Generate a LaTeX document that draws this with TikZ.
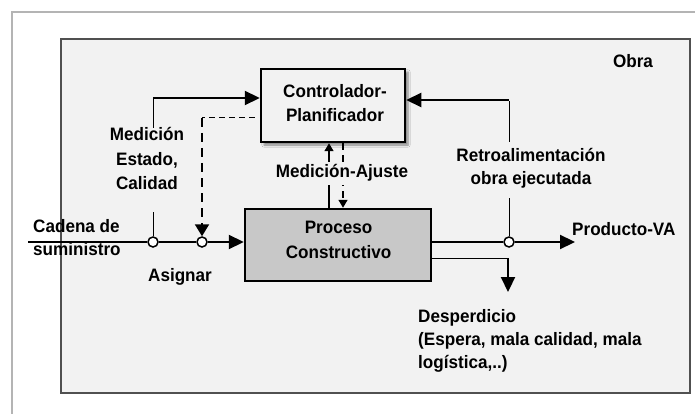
\documentclass[tikz,border=0pt]{standalone}
\usepackage{fontspec}
\setmainfont{Liberation Sans}[FakeStretch=0.95]
\usetikzlibrary{arrows.meta,shadows.blur}
\definecolor{bgc}{HTML}{F2F2F2}
\definecolor{procfill}{HTML}{C8C8C8}
\definecolor{framec}{HTML}{B4B4B4}
\definecolor{obrac}{HTML}{505050}
\begin{document}
\begin{tikzpicture}[x=1pt,y=-1pt,
  txt/.style={font=\bfseries\fontsize{18}{23}\selectfont, inner sep=0pt, anchor=base},
  big/.style={-{Triangle[length=15pt,width=14pt]}},
  small/.style={-{Triangle[length=8pt,width=9pt]}},
  thickline/.style={line width=2.2pt},
  thinline/.style={line width=1pt},
  junction/.style={circle, draw, fill=white, line width=1.5pt, minimum size=10pt, inner sep=0pt},
  ctrlbox/.style={draw, line width=2.5pt, fill=bgc, minimum width=144pt, minimum height=73pt, inner sep=0pt,
    blur shadow={shadow xshift=3pt, shadow yshift=-3pt, shadow blur steps=6, shadow opacity=45}},
  procbox/.style={draw, line width=2.5pt, fill=procfill, minimum width=186pt, minimum height=72pt, inner sep=0pt}]
\fill[white] (0,0) rectangle (695,414);
\useasboundingbox (0,0) rectangle (695,414);
% page frame and Obra box
\draw[framec, line width=1.5pt] (12,414) -- (12,12) -- (695,12);
\draw[obrac, line width=1.5pt, fill=bgc] (61,39) rectangle (690,393);
\node[txt] (obra) at (633,68) {Obra};

% boxes
\node[ctrlbox] (ctrl) at (333,105.5) {};
\node[txt] (ctrl1) at (335,98) {Controlador-};
\node[txt] (ctrl2) at (335,122) {Planificador};
\node[procbox] (proc) at (338,245) {};
\node[txt] (proc1) at (338.5,233) {Proceso};
\node[txt] (proc2) at (338.5,258) {Constructivo};

% junctions
\node[junction] (c1) at (153,242) {};
\node[junction] (c2) at (202,242) {};
\node[junction] (c3) at (509,242) {};

% coordinates
\coordinate (src) at (28,242);
\coordinate (m1) at (153,212);
\coordinate (m2) at (153,128);
\coordinate (m3) at (153,98);
\coordinate (d1) at (202,118);
\coordinate (u) at (329,0);
\coordinate (dn) at (343,0);
\coordinate (r1) at (509,198);
\coordinate (r2) at (509,142);
\coordinate (r3) at (509,100);
\coordinate (pva) at (575,242);
\coordinate (w1) at (508,258);
\coordinate (w2) at (508,292);

% supply chain input
\draw[thickline] (src) -- (c1) -- (c2);
\draw[thickline, big] (c2) -- (proc.west |- c2);

% measurement of state
\draw[thinline] (c1) -- (m1);
\draw[thinline] (m2) -- ([yshift=-0.8pt]m3);
\draw[thickline, big] (m3) -- (m3 -| ctrl.west);

% assignment (dashed)
\draw[thinline, dash pattern=on 6pt off 4pt] ([xshift=-5pt]ctrl.west |- d1) -- (d1);
\draw[line width=2pt, dash pattern=on 9pt off 6pt, -{Triangle[length=12pt,width=14pt]}] (d1) -- (c2);

% measurement-adjustment
\draw[line width=1.5pt, small] (u |- proc.north) -- (u |- ctrl.south);
\draw[line width=1.5pt, dash pattern=on 7pt off 5pt, small] (dn |- ctrl.south) -- (dn |- proc.north);
\node[txt, fill=bgc, inner xsep=1pt, inner ysep=3pt] (ma) at (342,178) {Medición-Ajuste};

% feedback
\draw[thinline] (c3) -- (r1);
\draw[thinline] (r2) -- ([yshift=-0.8pt]r3);
\draw[thickline, big] (r3) -- (r3 -| ctrl.east);

% output
\draw[thickline] (proc.east |- c3) -- (c3);
\draw[thickline, big] (c3) -- (pva);

% waste
\draw[thinline] (proc.east |- w1) -- ([xshift=0.6pt]w1);
\draw[thickline, big] ([yshift=-0.5pt]w1) -- (w2);

% labels
\node[txt, anchor=base west] (cad1) at (33,232) {Cadena de};
\node[txt, anchor=base west] (cad2) at (33,255) {suministro};
\node[txt] (asig) at (180,281) {Asignar};
\node[txt] (med1) at (147,141) {Medición};
\node[txt] (med2) at (147,165) {Estado,};
\node[txt] (med3) at (147,189) {Calidad};
\node[txt] (ret1) at (531,161) {Retroalimentación};
\node[txt] (ret2) at (531,184) {obra ejecutada};
\node[txt, anchor=base west] (prod) at (572,235) {Producto-VA};
\node[txt, anchor=base west] (des1) at (418,322) {Desperdicio};
\node[txt, anchor=base west] (des2) at (418,345) {(Espera, mala calidad, mala};
\node[txt, anchor=base west] (des3) at (418,368) {logística,..)};
\end{tikzpicture}
\end{document}
